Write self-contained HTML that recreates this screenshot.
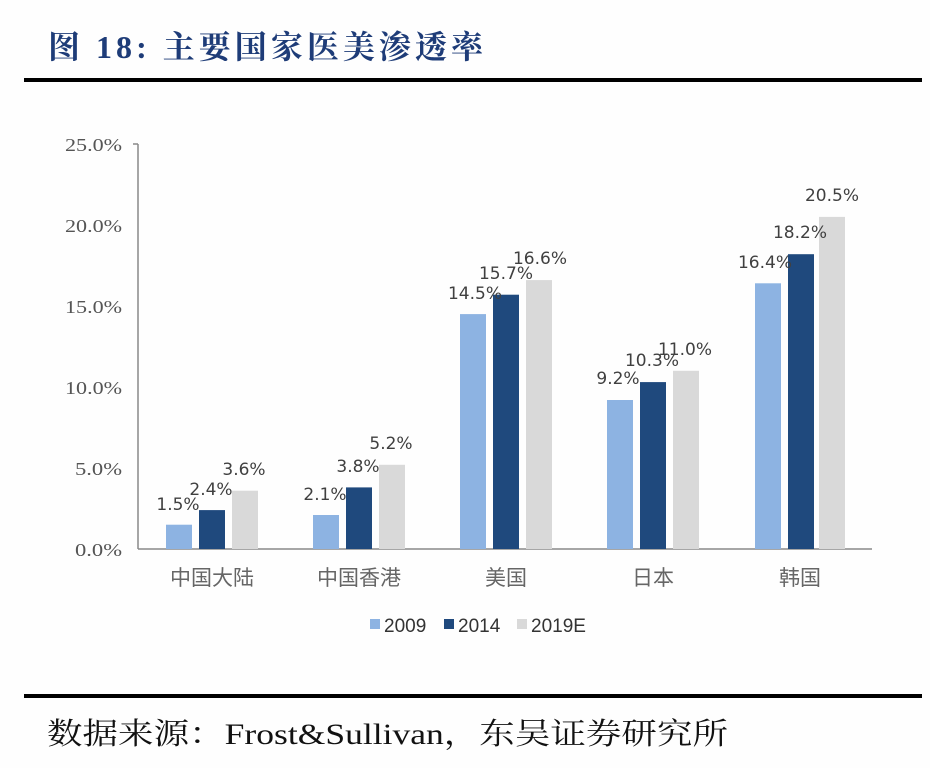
<!DOCTYPE html>
<html><head><meta charset="utf-8"><style>
html,body{margin:0;padding:0;background:#fff;width:930px;height:768px;overflow:hidden}
svg{display:block}
</style></head><body>
<svg width="930" height="768" viewBox="0 0 930 768" xmlns="http://www.w3.org/2000/svg">
<rect width="930" height="768" fill="#fefefe"/>
<text x="48" y="58" font-family="'Liberation Serif','Noto Serif CJK SC',serif" font-weight="bold" font-size="32" fill="#1e3c78" textLength="435" lengthAdjust="spacing">图 18:  主要国家医美渗透率</text>
<rect x="24" y="78" width="898" height="4" fill="#000"/>
<g font-family="'Liberation Serif',serif" font-size="18" fill="#555" text-anchor="end">
<text x="122" y="151" textLength="57" lengthAdjust="spacingAndGlyphs">25.0%</text>
<text x="122" y="232" textLength="57" lengthAdjust="spacingAndGlyphs">20.0%</text>
<text x="122" y="313" textLength="57" lengthAdjust="spacingAndGlyphs">15.0%</text>
<text x="122" y="394" textLength="57" lengthAdjust="spacingAndGlyphs">10.0%</text>
<text x="122" y="475" textLength="47" lengthAdjust="spacingAndGlyphs">5.0%</text>
<text x="122" y="556" textLength="47" lengthAdjust="spacingAndGlyphs">0.0%</text>
</g>
<g stroke="#888" stroke-width="1.5">
<line x1="138" y1="144" x2="138" y2="549"/>
<line x1="133" y1="144" x2="138" y2="144"/>
<line x1="138" y1="549" x2="872" y2="549"/>
</g>
<g id="bars">
<rect x="166" y="524.7" width="26" height="24.3" fill="#8db3e2"/>
<rect x="199" y="510.1" width="26" height="38.9" fill="#1f497d"/>
<rect x="232" y="490.7" width="26" height="58.3" fill="#d9d9d9"/>
<rect x="313" y="515" width="26" height="34" fill="#8db3e2"/>
<rect x="346" y="487.4" width="26" height="61.6" fill="#1f497d"/>
<rect x="379" y="464.8" width="26" height="84.2" fill="#d9d9d9"/>
<rect x="460" y="314.1" width="26" height="234.9" fill="#8db3e2"/>
<rect x="493" y="294.7" width="26" height="254.3" fill="#1f497d"/>
<rect x="526" y="280.1" width="26" height="268.9" fill="#d9d9d9"/>
<rect x="607" y="400" width="26" height="149" fill="#8db3e2"/>
<rect x="640" y="382.1" width="26" height="166.9" fill="#1f497d"/>
<rect x="673" y="370.8" width="26" height="178.2" fill="#d9d9d9"/>
<rect x="755" y="283.3" width="26" height="265.7" fill="#8db3e2"/>
<rect x="788" y="254.2" width="26" height="294.8" fill="#1f497d"/>
<rect x="819" y="216.9" width="26" height="332.1" fill="#d9d9d9"/>
</g>
<g font-family="'DejaVu Sans','Liberation Sans',sans-serif" font-size="17" fill="#404040" text-anchor="middle">
<text x="178" y="510">1.5%</text>
<text x="211" y="495">2.4%</text>
<text x="244" y="475">3.6%</text>
<text x="325" y="500">2.1%</text>
<text x="358" y="472">3.8%</text>
<text x="391" y="449">5.2%</text>
<text x="475" y="299">14.5%</text>
<text x="506" y="279">15.7%</text>
<text x="540" y="264">16.6%</text>
<text x="618" y="384">9.2%</text>
<text x="652" y="366">10.3%</text>
<text x="685" y="355">11.0%</text>
<text x="765" y="268">16.4%</text>
<text x="800" y="238">18.2%</text>
<text x="832" y="201">20.5%</text>
</g>
<g font-family="'Liberation Sans','Noto Sans CJK SC',sans-serif" font-size="21" fill="#666" text-anchor="middle">
<text x="212" y="585">中国大陆</text>
<text x="359" y="585">中国香港</text>
<text x="506" y="585">美国</text>
<text x="653" y="585">日本</text>
<text x="800" y="585">韩国</text>
</g>
<g font-family="'Liberation Sans',sans-serif" font-size="19" fill="#333">
<rect x="370" y="619" width="10" height="10" fill="#8db3e2"/>
<text x="384" y="632">2009</text>
<rect x="444" y="619" width="10" height="10" fill="#1f497d"/>
<text x="458" y="632">2014</text>
<rect x="517" y="619" width="10" height="10" fill="#d9d9d9"/>
<text x="531" y="632">2019E</text>
</g>
<rect x="24" y="694" width="898" height="4" fill="#000"/>
<text x="47" y="744" font-family="'Liberation Serif','Noto Serif CJK SC',serif" font-size="30" fill="#111" textLength="681" lengthAdjust="spacingAndGlyphs">数据来源：Frost&amp;Sullivan，东吴证券研究所</text>
</svg>
</body></html>
